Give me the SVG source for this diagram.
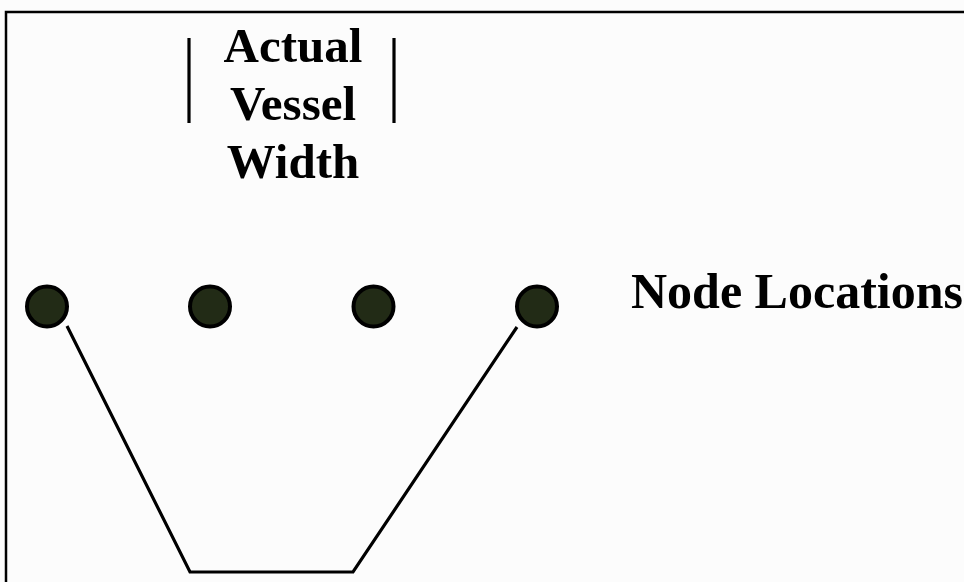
<svg xmlns="http://www.w3.org/2000/svg" width="964" height="582" viewBox="0 0 964 582">
<style>
.lbl{font-family:"Liberation Serif","Times New Roman",serif;font-weight:bold;font-size:49px;fill:#000}
.big{font-size:50px}
.node{fill:#222b16;stroke:#000;stroke-width:4}
.conn{fill:none;stroke:#000;stroke-width:3.2}
</style>
<rect width="964" height="582" fill="#fcfcfc"/>
<path d="M6,582 V12 H964" fill="none" stroke="#000" stroke-width="2.5"/>
<g id="width-label">
<line x1="189" y1="38" x2="189" y2="123" class="conn"/>
<line x1="394" y1="38" x2="394" y2="123" class="conn"/>
<text class="lbl" x="293" y="62" text-anchor="middle">Actual</text>
<text class="lbl" x="293" y="120" text-anchor="middle">Vessel</text>
<text class="lbl" x="293" y="178" text-anchor="middle">Width</text>
</g>
<g id="node1"><circle class="node" cx="47" cy="306.5" r="20"/></g>
<g id="node2"><circle class="node" cx="210" cy="306.5" r="20"/></g>
<g id="node3"><circle class="node" cx="373.5" cy="306.5" r="20"/></g>
<g id="node4"><circle class="node" cx="537" cy="306.5" r="20"/></g>
<g id="node-label"><text class="lbl big" x="631" y="308">Node Locations</text></g>
<g id="connectors">
<polyline class="conn" points="67,326 190,572 353,572 517,327"/>
</g>
</svg>
